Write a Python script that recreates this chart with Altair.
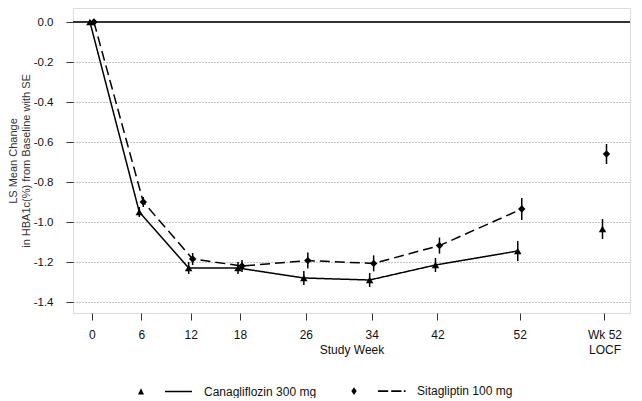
import altair as alt
import pandas as pd

# ---- data ----
weeks = [0, 6, 12, 18, 26, 34, 42, 52]
locf_pos = 62.3
tick_values = [0, 6, 12, 18, 26, 34, 42, 52, 62.3]
series = ["Canagliflozin 300 mg", "Sitagliptin 100 mg"]

cana_mean = [0.0, -0.95, -1.23, -1.23, -1.28, -1.29, -1.215, -1.145]
cana_se = [0.0, 0.025, 0.03, 0.03, 0.035, 0.035, 0.035, 0.05]
cana_locf = -1.035
cana_locf_se = 0.05

sita_mean = [0.0, -0.90, -1.185, -1.22, -1.193, -1.207, -1.118, -0.935]
sita_se = [0.0, 0.025, 0.03, 0.03, 0.04, 0.04, 0.04, 0.055]
sita_locf = -0.66
sita_locf_se = 0.05

y_ticks = [0.0, -0.2, -0.4, -0.6, -0.8, -1.0, -1.2, -1.4]

rows = []
for name, means, ses, lm, lse in [
    (series[0], cana_mean, cana_se, cana_locf, cana_locf_se),
    (series[1], sita_mean, sita_se, sita_locf, sita_locf_se),
]:
    for w, m, s in zip(weeks, means, ses):
        rows.append(dict(series=name, week=w, mean=m, lo=m - s, hi=m + s, kind="visit"))
    rows.append(dict(series=name, week=locf_pos, mean=lm, lo=lm - lse, hi=lm + lse, kind="locf"))
df = pd.DataFrame(rows)

FONT = "Liberation Sans"
xscale = alt.Scale(domain=[-2.3, 65.4], nice=False, zero=False)
yscale = alt.Scale(domain=[-1.455, 0.07], nice=False, zero=False)

xaxis = alt.Axis(
    values=tick_values,
    labelExpr="datum.value > 60 ? ['Wk 52', 'LOCF'] : datum.label",
    grid=False, domain=False, tickSize=7, tickColor="#333",
    labelFontSize=12, labelColor="#111", labelFont=FONT, labelPadding=9,
    labelLineHeight=15, labelFlush=False,
    title="Study Week", titleFontSize=12, titleFontWeight="normal",
    titleFont=FONT, titleColor="#111", titleY=31,
)
yaxis = alt.Axis(
    values=y_ticks,
    labelExpr="(datum.value < -0.001 ? '-' : '') + format(abs(datum.value), '.1f')",
    grid=True, gridDash=[1, 2], gridColor="#888", gridWidth=1,
    domain=False, tickSize=7, tickColor="#333",
    labelFontSize=11.5, labelColor="#111", labelFont=FONT, labelPadding=13,
    title=["LS Mean Change", "in HBA1c(%) from Baseline with SE"],
    titleFontSize=11, titleFontWeight="normal", titleFont=FONT,
    titleColor="#333", titlePadding=2, titleLineHeight=13,
)

base = alt.Chart(df)

# axes / grid carrier (invisible)
axes_layer = base.mark_point(opacity=0).encode(
    x=alt.X("week:Q", scale=xscale, axis=xaxis),
    y=alt.Y("mean:Q", scale=yscale, axis=yaxis),
)

zero_rule = base.mark_rule(color="#333", strokeWidth=1.2).encode(y=alt.datum(0))

layers = [axes_layer, zero_rule]
styles = {
    series[0]: dict(shape="triangle-up", dash=[1, 0], off=-2),
    series[1]: dict(shape="diamond", dash=[10, 5], off=2),
}
for name in series:
    st = styles[name]
    sub = base.transform_filter(alt.datum.series == name)
    line = sub.transform_filter(alt.datum.kind == "visit").mark_line(
        color="black", strokeWidth=1.5, strokeDash=st["dash"], xOffset=st["off"]
    ).encode(x=alt.X("week:Q", scale=xscale), y=alt.Y("mean:Q", scale=yscale))
    err = sub.mark_rule(color="black", strokeWidth=1.5, xOffset=st["off"]).encode(
        x=alt.X("week:Q", scale=xscale),
        y=alt.Y("lo:Q", scale=yscale),
        y2="hi:Q",
    )
    pts = sub.mark_point(
        shape=st["shape"], filled=True, color="black", size=55, opacity=1, xOffset=st["off"]
    ).encode(x=alt.X("week:Q", scale=xscale), y=alt.Y("mean:Q", scale=yscale))
    layers += [line, err, pts]

# legend glyphs: marker + line sample, drawn as filled shapes (unit = 3px)
legend_paths = [
    "M-1,1L0,-1.1L1,1Z M8,-0.25L17,-0.25L17,0.25L8,0.25Z",
    "M0,-1.3L0.9,0L0,1.3L-0.9,0Z "
    "M8,-0.3L11.4,-0.3L11.4,0.3L8,0.3Z "
    "M12.4,-0.3L15.8,-0.3L15.8,0.3L12.4,0.3Z "
    "M16.6,-0.3L17.2,-0.3L17.2,0.3L16.6,0.3Z",
]
legend_layer = base.transform_filter(alt.datum.week == 0).mark_point(
    opacity=0, filled=True, size=36, color="black"
).encode(
    x=alt.X("week:Q", scale=xscale),
    y=alt.Y("mean:Q", scale=yscale),
    shape=alt.Shape(
        "series:N",
        scale=alt.Scale(domain=series, range=legend_paths),
        legend=alt.Legend(
            title=None, orient="none", direction="horizontal", columns=2,
            legendX=62, legendY=377,
            symbolSize=36, symbolFillColor="black",
            symbolOpacity=1,
            labelOffset=57, columnPadding=31,
            labelFontSize=12, labelFont=FONT, labelColor="#111", labelLimit=300,
        ),
    ),
)
layers.append(legend_layer)

chart = alt.layer(*layers).properties(
    width=557, height=305,
    autosize=alt.AutoSizeParams(type="none"),
    padding={"left": 65, "top": 0, "right": 4, "bottom": 85},
).configure_view(stroke="#444", strokeWidth=1).configure(background="white")

chart.save("out.html", embed_options={"renderer": "svg", "actions": False})
